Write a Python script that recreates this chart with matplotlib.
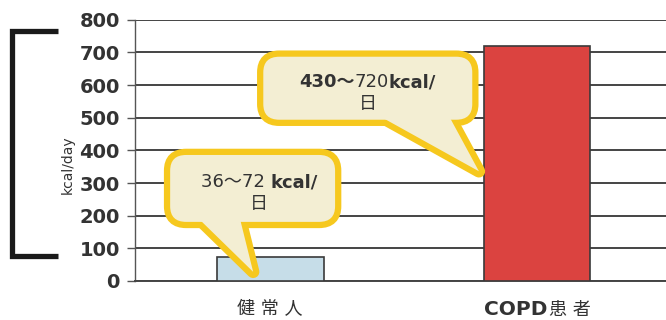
import matplotlib
matplotlib.use("Agg")
import matplotlib.pyplot as plt
from matplotlib.patches import FancyBboxPatch, Polygon
from matplotlib.lines import Line2D
from matplotlib.offsetbox import TextArea, HPacker, VPacker, AnnotationBbox

plt.rcParams['font.family'] = ['DejaVu Sans', 'Noto Sans CJK JP']

# data
groups = ['健常人', 'COPD患者']
energy = [72, 720]          # kcal/day
bar_colors = ['#c6dde8', '#db4340']
yticks = [0, 100, 200, 300, 400, 500, 600, 700, 800]

TXT = '#333333'
YELLOW = '#f6c81e'
FILL = '#f3eed3'

fig = plt.figure(figsize=(6.66, 3.2), dpi=100)
ax = fig.add_axes([0.203, 0.122, 0.797, 0.816])

x = list(range(len(groups)))
ax.bar(x, energy, width=0.40, color=bar_colors, edgecolor='#3a3a3a', linewidth=1.2, zorder=3)

ax.set_xlim(-0.506, 1.483)
ax.set_ylim(0, 800)
ax.set_yticks(yticks)
ax.set_yticklabels([str(v) for v in yticks], fontsize=14, fontweight='bold', color=TXT)
ax.yaxis.grid(True, color='#444444', linewidth=1.4, zorder=0)
ax.set_axisbelow(True)
ax.tick_params(axis='y', direction='out', length=6, width=1.0, color='#555555', pad=5)
ax.tick_params(axis='x', length=0)
ax.set_xticks(x)
ax.set_xticklabels([])
for side in ['top', 'right']:
    ax.spines[side].set_visible(False)
ax.spines['left'].set_color('#555555')
ax.spines['left'].set_linewidth(1.0)
ax.spines['bottom'].set_color('#444444')
ax.spines['bottom'].set_linewidth(1.4)

# axis title sits over the left edge of the tick labels
ax.text(-0.128, 0.445, 'kcal/day', transform=ax.transAxes, rotation=90,
        ha='center', va='center', fontsize=10, color=TXT)

# category labels
ax.text(0, -58, ' '.join(groups[0]), ha='center', va='top', fontsize=13, color=TXT)
cat2 = HPacker(children=[
    TextArea('COPD', textprops=dict(fontsize=14.5, fontweight='bold', color=TXT)),
    TextArea('患 者', textprops=dict(fontsize=13, color=TXT)),
], pad=0, sep=1, align='baseline')
ax.add_artist(AnnotationBbox(cat2, (1, -58), box_alignment=(0.5, 1.0),
                             frameon=False, annotation_clip=False))


def callout(ax, x0, x1, y0, y1, base, tip, lines, dx=0.0):
    """Rounded speech bubble with a pointer, drawn in data coordinates."""
    box_kw = dict(boxstyle='round,pad=0,rounding_size=0.06', mutation_aspect=800)
    ptr = [(base[0], y0 + 5), (base[1], y0 + 5), tip]
    # yellow outline first, then the fill on top so the outline is one shape
    ax.add_patch(FancyBboxPatch((x0, y0), x1 - x0, y1 - y0, fc=YELLOW, ec=YELLOW,
                                lw=9, zorder=5, clip_on=False, **box_kw))
    ax.add_patch(Polygon(ptr, closed=True, fc=YELLOW, ec=YELLOW, lw=9,
                         joinstyle='round', zorder=5, clip_on=False))
    ax.add_patch(FancyBboxPatch((x0, y0), x1 - x0, y1 - y0, fc=FILL, ec='none',
                                zorder=6, clip_on=False, **box_kw))
    ax.add_patch(Polygon(ptr, closed=True, fc=FILL, ec='none', zorder=6, clip_on=False))
    rows = []
    for line in lines:
        rows.append(HPacker(children=[TextArea(s, textprops=dict(fontsize=13, fontweight=w, color=TXT))
                                      for s, w in line], pad=0, sep=0, align='baseline'))
    pack = VPacker(children=rows, pad=0, sep=3, align='center')
    ab = AnnotationBbox(pack, ((x0 + x1) / 2 + dx, (y0 + y1) / 2 - 15), frameon=False,
                        box_alignment=(0.5, 0.5), annotation_clip=False, zorder=7)
    ax.add_artist(ab)


callout(ax, -0.375, 0.243, 181, 386, (-0.262, -0.112), (-0.064, 28),
        [[('36～72 ', 'normal'), ('kcal/', 'bold')], [('日', 'normal')]], dx=0.025)
callout(ax, -0.026, 0.757, 494, 687, (0.423, 0.674), (0.782, 336),
        [[('430～', 'bold'), ('720', 'normal'), ('kcal/', 'bold')], [('日', 'normal')]])

# bracket at the left edge
fig.add_artist(Line2D([58 / 666, 12 / 666, 12 / 666, 58 / 666],
                      [1 - 31 / 320, 1 - 31 / 320, 1 - 256 / 320, 1 - 256 / 320],
                      color='#1a1a1a', lw=3.8, solid_joinstyle='miter', solid_capstyle='butt'))

fig.savefig('out.png', dpi=100)
